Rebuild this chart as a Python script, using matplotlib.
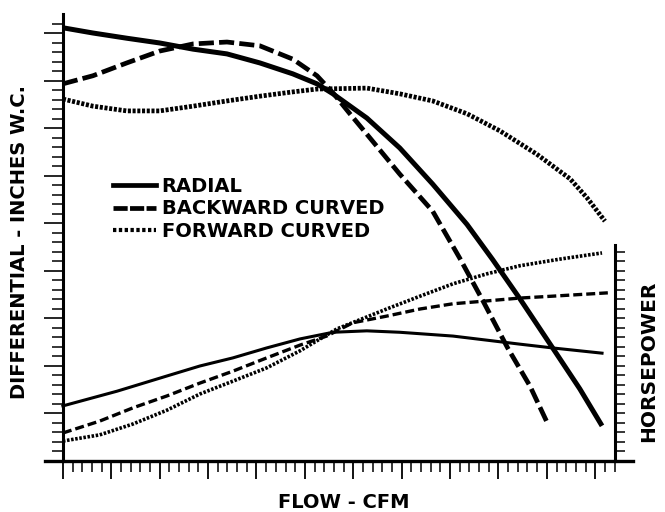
import matplotlib
matplotlib.use("Agg")
import numpy as np
import matplotlib.pyplot as plt
from matplotlib.lines import Line2D
from matplotlib.ticker import FixedLocator

# Fan performance curves: pressure (upper) and horsepower (lower) vs flow
flow_radial = [0, 0.62, 1.32, 2.0, 2.69, 3.39, 4.07, 4.75, 5.25, 5.58, 6.28,
               6.96, 7.64, 8.35, 8.88, 9.44, 10.12, 10.68, 11.14]
press_radial = [9.12, 9.01, 8.90, 8.80, 8.67, 8.57, 8.38, 8.15, 7.94, 7.73, 7.22,
                6.59, 5.83, 4.98, 4.24, 3.42, 2.38, 1.52, 0.74]

flow_backward = [0, 0.62, 1.32, 2.0, 2.69, 3.39, 4.07, 4.75, 5.25, 5.58, 5.93,
                 6.28, 6.96, 7.64, 8.20, 8.68, 9.19, 9.65, 10.02]
press_backward = [7.94, 8.11, 8.38, 8.63, 8.78, 8.82, 8.74, 8.46, 8.11, 7.75, 7.31,
                  6.88, 6.04, 5.26, 4.27, 3.37, 2.38, 1.58, 0.78]

flow_forward = [0, 0.62, 1.32, 2.0, 2.69, 3.39, 4.07, 4.75, 5.25, 6.28, 6.96,
                7.64, 8.35, 9.03, 9.79, 10.48, 10.83, 11.20]
press_forward = [7.62, 7.47, 7.37, 7.37, 7.47, 7.58, 7.68, 7.77, 7.83, 7.85, 7.73,
                 7.58, 7.31, 6.95, 6.46, 5.94, 5.54, 5.05]

hp_flow_radial = [0, 1.12, 2.15, 2.83, 3.51, 4.21, 4.90, 5.58, 6.28, 6.96, 8.06,
                  9.44, 10.12, 11.14]
hp_radial = [1.16, 1.47, 1.79, 2.0, 2.17, 2.38, 2.57, 2.71, 2.74, 2.71, 2.63,
             2.46, 2.38, 2.27]

hp_flow_backward = [0, 0.76, 1.45, 2.15, 2.83, 3.51, 4.21, 4.90, 5.45, 5.99, 6.69,
                    7.38, 8.06, 8.76, 9.44, 10.12, 11.26]
hp_backward = [0.59, 0.84, 1.12, 1.37, 1.64, 1.89, 2.17, 2.44, 2.63, 2.91, 3.05,
               3.20, 3.31, 3.37, 3.43, 3.47, 3.54]

hp_flow_forward = [0, 0.76, 1.45, 2.15, 2.83, 3.51, 4.21, 4.90, 5.66, 6.69, 7.38,
                   8.06, 8.76, 9.44, 10.27, 11.14]
hp_forward = [0.42, 0.55, 0.78, 1.07, 1.41, 1.68, 1.96, 2.32, 2.78, 3.20, 3.47,
              3.73, 3.94, 4.11, 4.25, 4.38]

labels = ["RADIAL", "BACKWARD CURVED", "FORWARD CURVED"]

plt.rcParams['font.family'] = ['DejaVu Sans']

fig = plt.figure(figsize=(6.65, 5.12), dpi=100)
ax = fig.add_axes([45 / 665, 51 / 512, 588 / 665, 447 / 512])

solid = '-'
dashed = (0, (3.2, 1.1))
dotted = (0, (0.65, 0.35))

# pressure curves
ax.plot(flow_radial, press_radial, color='black', lw=3.6, ls=solid, solid_capstyle='butt')
ax.plot(flow_backward, press_backward, color='black', lw=3.4, ls=dashed)
ax.plot(flow_forward, press_forward, color='black', lw=3.4, ls=dotted)

# horsepower curves
ax.plot(hp_flow_radial, hp_radial, color='black', lw=2.2, ls=solid)
ax.plot(hp_flow_backward, hp_backward, color='black', lw=2.4, ls=(0, (2.7, 1.2)))
ax.plot(hp_flow_forward, hp_forward, color='black', lw=2.6, ls=(0, (0.7, 0.45)))

# axes styling
for side in ['top', 'right']:
    ax.spines[side].set_visible(False)
ax.spines['left'].set_position(('data', 0))
ax.spines['left'].set_linewidth(2.2)
ax.spines['bottom'].set_linewidth(2.4)

ax.xaxis.set_major_locator(FixedLocator(np.arange(0, 11.1, 1)))
ax.xaxis.set_minor_locator(FixedLocator(np.arange(0, 11.41, 0.2)))
ax.yaxis.set_major_locator(FixedLocator(np.arange(0, 9.1, 1)))
ax.yaxis.set_minor_locator(FixedLocator(np.arange(0, 9.21, 0.2)))
ax.xaxis.set_major_formatter(plt.NullFormatter())
ax.yaxis.set_major_formatter(plt.NullFormatter())
ax.tick_params(axis='x', which='major', direction='out', length=13, width=1.3)
ax.tick_params(axis='x', which='minor', direction='out', length=8, width=1.1)
ax.tick_params(axis='y', which='major', direction='out', length=14, width=1.2)
ax.tick_params(axis='y', which='minor', direction='out', length=8, width=1.1)
ax.set_xlim(-0.37, 11.78)
ax.set_ylim(0, 9.41)

# horsepower scale on the right
hp_ax = ax.twinx()
hp_ax.set_ylim(ax.get_ylim())
for side in ['top', 'left', 'bottom']:
    hp_ax.spines[side].set_visible(False)
hp_ax.spines['right'].set_position(('data', 11.4))
hp_ax.spines['right'].set_bounds(0, 4.55)
hp_ax.spines['right'].set_linewidth(2.2)
hp_ax.yaxis.set_major_locator(FixedLocator(np.arange(0.2, 4.45, 0.2)))
hp_ax.yaxis.set_major_formatter(plt.NullFormatter())
hp_ax.tick_params(axis='y', which='major', direction='out', length=7.5, width=1.1)

# legend
handles = [Line2D([], [], color='black', lw=3.4, ls=solid),
           Line2D([], [], color='black', lw=3.4, ls=(0, (3.0, 0.5))),
           Line2D([], [], color='black', lw=3.0, ls=(0, (0.8, 0.6)))]
ax.legend(handles, labels, loc='upper left',
          bbox_to_anchor=(113 / 665, 1 - 177 / 512), bbox_transform=fig.transFigure,
          frameon=False, borderpad=0, borderaxespad=0, handlelength=2.2,
          handletextpad=0.3, labelspacing=0.18,
          prop={'family': 'DejaVu Sans', 'weight': 'bold', 'size': 14})

fig.text(344 / 665, 1 - 502 / 512, "FLOW - CFM", ha='center', va='center',
         fontsize=14, fontweight='bold')
fig.text(20 / 665, 1 - 242 / 512, "DIFFERENTIAL - INCHES W.C.", ha='center',
         va='center', rotation=90, fontsize=14, fontweight='bold')
fig.text(649 / 665, 1 - 361 / 512, "HORSEPOWER", ha='center', va='center',
         rotation=90, fontsize=14.5, fontweight='bold')

fig.savefig("out.png", dpi=100)
